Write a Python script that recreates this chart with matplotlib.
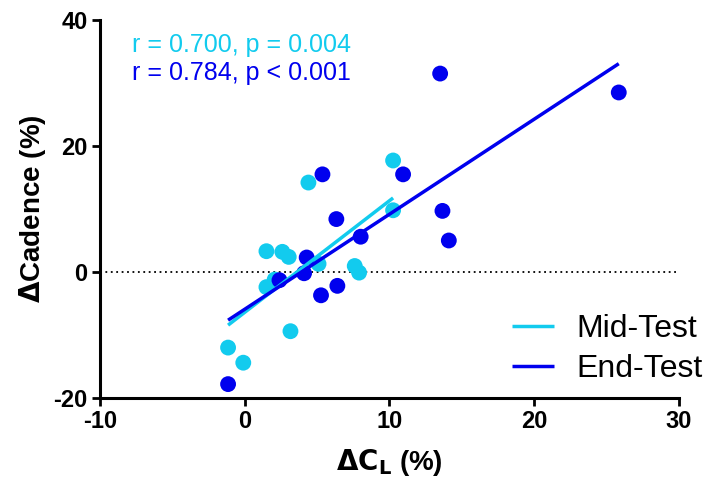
import numpy as np
import matplotlib; matplotlib.use('Agg'); import matplotlib.pyplot as plt

plt.rcParams['font.family'] = ['Liberation Sans', 'DejaVu Sans']

# values
mid_x = [10.25, 4.4, 10.25, 1.5, 2.6, 3.04, 5.1, 7.6, 7.9, 2.07, 1.5, 3.16, -1.15, -0.1]
mid_y = [17.7, 14.2, 9.8, 3.3, 3.2, 2.4, 1.3, 0.95, -0.1, -1.2, -2.4, -9.4, -12.0, -14.4]
end_x = [13.5, 25.84, 5.37, 10.94, 6.33, 13.66, 14.1, 8.01, 4.28, 4.1, 2.4, 6.4, 5.27, -1.15]
end_y = [31.5, 28.5, 15.5, 15.5, 8.4, 9.7, 5.0, 5.6, 2.3, -0.2, -1.3, -2.2, -3.7, -17.8]
series_labels = ['Mid-Test', 'End-Test']
stats_text = ['r = 0.700, p = 0.004', 'r = 0.784, p < 0.001']
xticks = [-10, 0, 10, 20, 30]
yticks = [-20, 0, 20, 40]

CYAN = '#12CBEE'
BLUE = '#0000EE'

fig = plt.figure(figsize=(7.05, 4.92), dpi=100)
ax = fig.add_axes([0.1418, 0.1911, 0.8213, 0.7682])

ax.axhline(0, color='black', linestyle=(0, (1, 2)), linewidth=1.3, zorder=1)

ax.scatter(mid_x, mid_y, s=130, color=CYAN, edgecolors='none', zorder=3)
ax.scatter(end_x, end_y, s=130, color=BLUE, edgecolors='none', zorder=3)

for xs, ys, col, lbl in [(mid_x, mid_y, CYAN, series_labels[0]),
                         (end_x, end_y, BLUE, series_labels[1])]:
    k, b = np.polyfit(xs, ys, 1)
    xx = np.array([min(xs), max(xs)])
    ax.plot(xx, k * xx + b, color=col, linewidth=2.5, label=lbl, zorder=4,
            solid_capstyle='butt')

ax.text(0.055, 0.934, stats_text[0], transform=ax.transAxes, color=CYAN,
        fontsize=18, va='center', ha='left')
ax.text(0.055, 0.86, stats_text[1], transform=ax.transAxes, color=BLUE,
        fontsize=18, va='center', ha='left')

ax.set_xlim(-10, 30); ax.set_ylim(-20, 40)
ax.set_xticks(xticks); ax.set_yticks(yticks)
ax.set_xticklabels([str(t) for t in xticks], fontsize=17, fontweight='bold')
ax.set_yticklabels([str(t) for t in yticks], fontsize=17, fontweight='bold')
ax.tick_params(width=2, length=6, direction='out', pad=3)
for s in ['top', 'right']:
    ax.spines[s].set_visible(False)
for s in ['left', 'bottom']:
    ax.spines[s].set_linewidth(2.2)

ax.set_xlabel(r'$\mathbf{\Delta C_L}$ (%)', fontsize=20, fontweight='bold', labelpad=10)
ax.set_ylabel(r'$\mathbf{\Delta}$Cadence (%)', fontsize=20, fontweight='bold', labelpad=4)

ax.legend(loc='lower right', bbox_to_anchor=(1.09, -0.04), frameon=False, fontsize=23,
          handlelength=1.3, handletextpad=0.7, labelspacing=0.33)

fig.savefig('out.png', dpi=100)
plt.close()
